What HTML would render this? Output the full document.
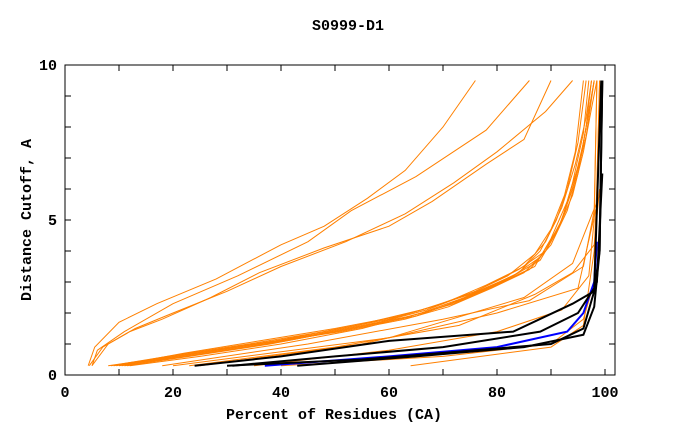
<!DOCTYPE html>
<html><head><meta charset="utf-8"><style>
body{margin:0;background:#fff}
svg text{font-family:"Liberation Mono","DejaVu Sans Mono",monospace;font-size:15px;font-weight:bold;fill:#000}
</style></head><body>
<svg id="chart" width="680" height="440" xmlns="http://www.w3.org/2000/svg">
<text x="348" y="30" text-anchor="middle">S0999-D1</text>
<rect x="65" y="65" width="550" height="310" fill="none" stroke="#000" stroke-width="1"/>
<g id="ticks"></g>
<g id="series"></g>
<text x="334" y="419" text-anchor="middle">Percent of Residues (CA)</text>
<text transform="translate(31,220) rotate(-90)" text-anchor="middle">Distance Cutoff, A</text>
</svg>
<script>
const xTicks=[0,20,40,60,80,100];
const yTicks=[0,5,10];
const orangeCurves=[
[[4.3,0.3],[5.5,0.9],[10,1.7],[17,2.3],[28,3.1],[40,4.2],[48,4.8],[56,5.7],[63,6.6],[70,8.0],[76,9.5]],
[[5,0.3],[6,0.8],[11,1.4],[20,2.3],[32,3.2],[45,4.3],[53,5.3],[65,6.4],[78,7.9],[86,9.5]],
[[4.5,0.3],[7,0.9],[12,1.4],[18,1.8],[27,2.5],[36,3.3],[48,4.1],[60,4.8],[68,5.6],[78,6.8],[85,7.6],[90,9.5]],
[[5,0.3],[8,1.0],[13,1.5],[20,2.0],[30,2.7],[40,3.5],[52,4.3],[63,5.2],[72,6.2],[80,7.2],[89,8.5],[94,9.5]],
[[8,0.3],[20,0.6],[35,1.0],[50,1.4],[62,1.8],[70,2.2],[78,2.8],[84,3.3],[88,4.0],[91,5.0],[93,6.0],[95,7.5],[96.5,9.5]],
[[9,0.3],[21,0.6],[36,1.0],[51,1.4],[63,1.8],[71,2.2],[79,2.8],[85,3.3],[89,4.0],[92,5.0],[94,6.2],[96,7.8],[97,9.5]],
[[10,0.3],[22,0.6],[37,1.0],[52,1.5],[64,1.9],[72,2.3],[80,2.9],[86,3.4],[90,4.2],[93,5.3],[95,6.5],[96.5,8.0],[97.5,9.5]],
[[11,0.3],[23,0.6],[38,1.0],[53,1.5],[65,1.9],[73,2.4],[81,3.0],[87,3.5],[90,4.4],[93,5.6],[95.5,7.0],[97,8.5],[98,9.5]],
[[8.5,0.3],[19,0.6],[34,1.0],[48,1.4],[60,1.8],[68,2.2],[76,2.7],[82,3.2],[87,3.9],[90,4.7],[92.5,5.8],[94.5,7.2],[96,9.5]],
[[12,0.3],[25,0.6],[40,1.0],[55,1.5],[66,2.0],[74,2.5],[82,3.1],[88,3.7],[91,4.6],[94,5.8],[96,7.2],[97.5,8.6],[98.5,9.5]],
[[9.5,0.3],[22,0.7],[36,1.1],[50,1.5],[62,1.9],[70,2.3],[78,2.9],[85,3.5],[89,4.3],[92,5.4],[94.5,6.8],[96.5,8.3],[97.5,9.5]],
[[10.5,0.3],[24,0.7],[39,1.1],[54,1.6],[66,2.1],[75,2.6],[83,3.2],[88,3.8],[91.5,4.8],[94,6.0],[96,7.5],[97.5,9.0],[98,9.5]],
[[11.5,0.3],[26,0.7],[41,1.1],[56,1.6],[67,2.1],[76,2.7],[84,3.4],[89,4.0],[92,5.0],[94.5,6.3],[96.5,7.7],[98,9.5]],
[[64,0.3],[90,0.9],[96,1.6],[98,4.0],[98.5,6.0],[99,9.5]],
[[35,0.3],[60,0.8],[80,1.4],[92,2.1],[97,3.2],[98,5.0],[98.5,9.5]],
[[23,0.3],[50,0.9],[73,1.6],[87,2.6],[94,3.3],[98,4.2],[99,6.0]],
[[25,0.3],[55,1.0],[80,2.0],[95,2.8],[98.5,5.5]],
[[18,0.3],[45,1.0],[70,1.8],[86,2.4],[96,3.5],[98,5.3],[98.5,9.5]],
[[20,0.3],[60,1.2],[85,2.5],[94,3.6],[99,5.8]],
[[40,0.3],[70,0.6],[90,1.0],[96,1.8],[98,3.0],[99,9.5]]
];
const blackCurves=[
[[24,0.3],[40,0.6],[60,1.1],[83,1.4],[94,2.3],[98,2.7],[99,4.0],[99.5,9.5]],
[[31,0.3],[50,0.6],[70,0.9],[88,1.4],[95,2.0],[98,2.8],[99.3,9.5]],
[[43,0.3],[65,0.6],[85,0.9],[96,1.3],[98,2.2],[99,4.0],[99.5,9.5]],
[[30,0.3],[55,0.5],[90,1.0],[96,1.5],[98.5,3.0],[99.5,6.5]]
];
const blueCurves=[
[[37,0.3],[60,0.6],[80,0.9],[93,1.4],[96,2.0],[98,3.0],[98.5,4.3]]
];
const NS="http://www.w3.org/2000/svg";
function sx(v){return 65+v*5.4;}
function sy(v){return 375-v*31;}
const tk=document.getElementById('ticks');
const svg=document.getElementById('chart');
function line(x1,y1,x2,y2){const l=document.createElementNS(NS,'line');l.setAttribute('x1',x1);l.setAttribute('y1',y1);l.setAttribute('x2',x2);l.setAttribute('y2',y2);l.setAttribute('stroke','#000');tk.appendChild(l);return l;}
for(let i=1;i<=10;i++){const x=sx(i*10);const a=line(x,375,x,369);const b=line(x,65,x,71);}
for(let i=1;i<10;i++){const y=sy(i);const a=line(65,y,71,y);const b=line(615,y,609,y);}
xTicks.forEach(v=>{const t=document.createElementNS(NS,'text');t.setAttribute('x',sx(v));t.setAttribute('y',397);t.setAttribute('text-anchor','middle');t.textContent=v;


svg.appendChild(t);});
yTicks.forEach(v=>{const t=document.createElementNS(NS,'text');t.setAttribute('x',57);t.setAttribute('y',sy(v)+5);t.setAttribute('text-anchor','end');t.textContent=v;


svg.appendChild(t);});
const sg=document.getElementById('series');
function draw(arr,color,w,name){arr.forEach(c=>{const p=document.createElementNS(NS,'polyline');p.setAttribute('points',c.map(q=>sx(q[0])+','+sy(q[1])).join(' '));p.setAttribute('fill','none');p.setAttribute('stroke',color);p.setAttribute('stroke-width',w);


sg.appendChild(p);});}
draw(orangeCurves,'#ff8000',1,'orange-curve');
draw(blueCurves,'#0000ff',2,'blue-curve');
draw(blackCurves,'#000000',2,'black-curve');
</script>
</body></html>
